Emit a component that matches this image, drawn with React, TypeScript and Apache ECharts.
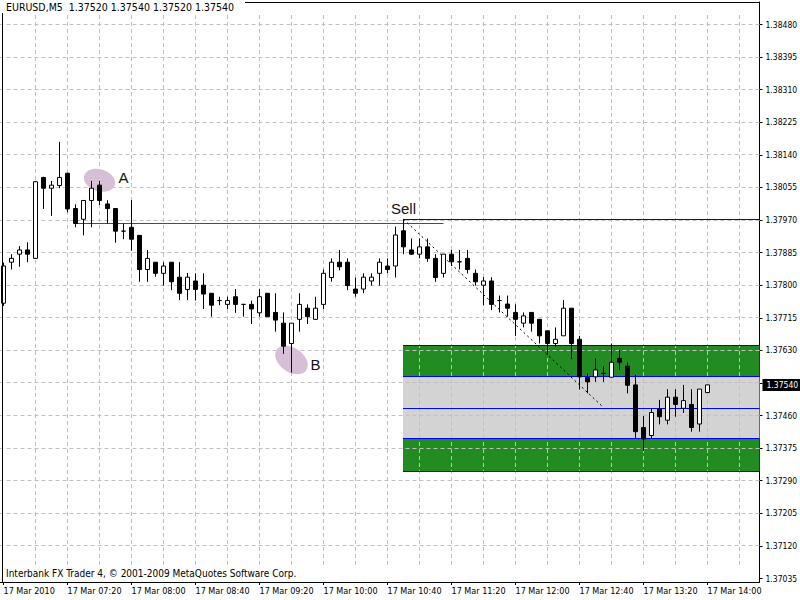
import React, { useEffect, useRef } from "react";
import * as echarts from "echarts";

const AXIS_FONT = "'DejaVu Sans Condensed', 'DejaVu Sans', sans-serif";
const NOTE_FONT = "'Liberation Sans', Arial, sans-serif";

const symbolName = "EURUSD,M5";
const copyrightText = "Interbank FX Trader 4, \u00a9 2001-2009 MetaQuotes Software Corp.";
const firstDateLabel = "17 Mar 2010";
const dayPrefix = "17 Mar";
const firstBarMinute = 6 * 60 + 40;
const barMinutes = 5;
const emptySlots = 6;

const opens = [
  1.37753, 1.3786, 1.37881, 1.37892, 1.3787, 1.38081, 1.38053, 1.3806, 1.38092, 1.38,
  1.37972, 1.38021, 1.38061, 1.38012, 1.38, 1.37941, 1.37951, 1.3793, 1.37841, 1.3786,
  1.37831, 1.3786, 1.37821, 1.37789, 1.37811, 1.378, 1.37779, 1.3776, 1.3775, 1.3777,
  1.3775, 1.3775, 1.37728, 1.37779, 1.37729, 1.37701, 1.37648, 1.37711, 1.3774, 1.37711,
  1.3775, 1.3782, 1.3786, 1.3786, 1.3779, 1.3779, 1.37811, 1.37831, 1.3785, 1.3785,
  1.37942, 1.37892, 1.37881, 1.379, 1.3787, 1.37831, 1.37881, 1.37861, 1.3787, 1.37831,
  1.378, 1.37811, 1.3776, 1.37751, 1.37729, 1.37701, 1.37729, 1.37711, 1.37681, 1.37648,
  1.37668, 1.3774, 1.37659, 1.37559, 1.37561, 1.3757, 1.3756, 1.37609, 1.37589, 1.3754,
  1.37429, 1.37408, 1.37477, 1.37448, 1.37508, 1.37479, 1.37489, 1.37438, 1.3752,
];
const closes = [
  1.3785, 1.3787, 1.37892, 1.37881, 1.3807, 1.38053, 1.38061, 1.38081, 1.37999, 1.37961,
  1.38021, 1.38053, 1.38021, 1.38, 1.37941, 1.37941, 1.3792, 1.37841, 1.3787, 1.37831,
  1.3785, 1.37809, 1.37779, 1.37821, 1.37789, 1.37777, 1.37748, 1.3776, 1.3776, 1.3775,
  1.3775, 1.37738, 1.3777, 1.37718, 1.37709, 1.37641, 1.37701, 1.3775, 1.37718, 1.3774,
  1.37831, 1.3786, 1.37848, 1.37799, 1.37779, 1.37821, 1.37821, 1.3786, 1.37841, 1.37931,
  1.379, 1.37881, 1.379, 1.3787, 1.3782, 1.37881, 1.37861, 1.37861, 1.37841, 1.37809,
  1.37811, 1.3775, 1.3776, 1.3774, 1.37711, 1.3772, 1.37701, 1.37668, 1.37648, 1.37659,
  1.3774, 1.37648, 1.37561, 1.37548, 1.37579, 1.3757, 1.37599, 1.37599, 1.37539, 1.37418,
  1.37399, 1.37468, 1.37457, 1.37508, 1.37489, 1.37499, 1.37429, 1.37529, 1.3754,
];
const lows = [
  1.37746, 1.37841, 1.37848, 1.3786, 1.3787, 1.37999, 1.37981, 1.38053, 1.3799, 1.37951,
  1.3793, 1.37951, 1.38009, 1.37961, 1.37911, 1.3792, 1.3789, 1.37809, 1.37809, 1.37822,
  1.37799, 1.37787, 1.37761, 1.37761, 1.3776, 1.37738, 1.37718, 1.37748, 1.37738, 1.37728,
  1.37718, 1.37699, 1.37718, 1.37718, 1.37679, 1.37621, 1.37572, 1.37679, 1.37699, 1.37711,
  1.37738, 1.37809, 1.37839, 1.37787, 1.3777, 1.37779, 1.37799, 1.37799, 1.37831, 1.3782,
  1.37881, 1.37879, 1.3787, 1.37861, 1.37809, 1.3782, 1.3785, 1.37841, 1.37831, 1.37799,
  1.37748, 1.37735, 1.37729, 1.37718, 1.37668, 1.3769, 1.37679, 1.37648, 1.37618, 1.3764,
  1.37668, 1.37607, 1.37528, 1.37518, 1.37548, 1.37548, 1.3756, 1.37579, 1.37518, 1.37399,
  1.37368, 1.37399, 1.37437, 1.37437, 1.37457, 1.37467, 1.37418, 1.37418, 1.3752,
];
const highs = [
  1.37859, 1.37881, 1.37902, 1.37912, 1.38072, 1.38083, 1.38072, 1.38174, 1.38093, 1.38011,
  1.38022, 1.38072, 1.38072, 1.38022, 1.38, 1.37961, 1.38022, 1.37931, 1.37892, 1.3786,
  1.3786, 1.3786, 1.3786, 1.37832, 1.37831, 1.37831, 1.37779, 1.3777, 1.3777, 1.3779,
  1.3775, 1.3776, 1.3779, 1.37779, 1.37779, 1.37729, 1.37701, 1.37779, 1.3775, 1.3777,
  1.37841, 1.3787, 1.37892, 1.3787, 1.3782, 1.37831, 1.37831, 1.3787, 1.3787, 1.37953,
  1.37972, 1.37922, 1.37922, 1.37922, 1.37881, 1.37881, 1.37892, 1.37892, 1.37892, 1.37841,
  1.37821, 1.37821, 1.37773, 1.37773, 1.3775, 1.37729, 1.37729, 1.37711, 1.37681, 1.3769,
  1.37761, 1.3774, 1.37668, 1.3757, 1.37609, 1.37589, 1.37648, 1.37631, 1.37599, 1.37566,
  1.37459, 1.37478, 1.37501, 1.37529, 1.37529, 1.3754, 1.37529, 1.37529, 1.3754,
];

const yTicks = [
  1.37035, 1.3712, 1.37205, 1.3729, 1.37375, 1.3746, 1.37545, 1.3763, 1.37715,
  1.378, 1.37885, 1.3797, 1.38055, 1.3814, 1.38225, 1.3831, 1.38395, 1.3848,
];
const yRange = [1.370259, 1.385387];
const gridBars = [4, 8, 12, 16, 20, 24, 28, 32, 36, 40, 44, 48, 52, 56, 60, 64, 68, 72, 76, 80, 84, 88, 92];

// horizontal levels (sell level + range channel), drawn from the sell bar to the right edge
const levelStartBar = 50;
const levelPrices = [1.37972, 1.37643, 1.37561, 1.37479, 1.37399, 1.37315];
const bandTops = [1.37643, 1.37561, 1.37399];
const bandBottoms = [1.37561, 1.37399, 1.37315];
const bandKinds = ["zone", "range", "zone"];

// red line and dotted trend line
const segmentStartBars = [9, 50];
const segmentStartPrices = [1.37961, 1.37972];
const segmentEndBars = [55, 75];
const segmentEndPrices = [1.37961, 1.37481];
const segmentKinds = ["red", "trend"];

const noteTexts = ["A", "B", "Sell"];
const noteBars = [15, 39, 50];
const notePrices = [1.3808, 1.37592, 1.37999];

const markerBars = [12, 36];
const markerPrices = [1.38074, 1.37605];
const markerSizes = [
  [16, 11, -0.3],
  [18, 12, -0.6],
];

const BAND_COLORS: Record<string, string> = { zone: "#228b22", range: "#d3d3d3" };
const GRID_COLOR = "#c0c0c0";
const GRID_PAD_TOP = 13;
const GRID_PAD_BOTTOM = 15;

const pad2 = (n: number) => (n < 10 ? "0" + n : "" + n);
const categories = Array.from({ length: opens.length + emptySlots }, (_, i) => {
  const m = firstBarMinute + i * barMinutes;
  return `${dayPrefix} ${pad2(Math.floor(m / 60))}:${pad2(m % 60)}`;
});

const crisp = (v: number) => Math.floor(v) + 0.5;

export default function App() {
  const ref = useRef<HTMLDivElement>(null);
  useEffect(() => {
    const chart = echarts.init(ref.current!, null, { renderer: "svg" });
    const last = opens.length - 1;
    const lastClose = closes[last];
    const title = `${symbolName}  ${opens[last].toFixed(5)} ${highs[last].toFixed(5)} ${lows[last].toFixed(5)} ${closes[last].toFixed(5)}`;
    // the current-price tag hides the scale label it sits on
    const yLabelValues = yTicks.filter((v) => Math.abs(v - lastClose) > 0.0002);

    const option: any = {
      animation: false,
      backgroundColor: "#ffffff",
      grid: { left: -0.5, width: 760, top: 2, bottom: 18, containLabel: false, outerBoundsMode: "none" },
      xAxis: {
        type: "category",
        data: categories,
        boundaryGap: true,
        axisLine: { show: true, lineStyle: { color: "#000", width: 1 } },
        axisTick: { show: true, alignWithLabel: true, interval: 7, length: 3, lineStyle: { color: "#000" } },
        axisLabel: {
          interval: 7,
          align: "left",
          margin: 4,
          color: "#000",
          fontFamily: AXIS_FONT,
          fontSize: 9,
          hideOverlap: false,
          formatter: (v: string, i: number) => (i === 0 ? firstDateLabel : v),
        },
        splitLine: { show: false },
      },
      yAxis: {
        type: "value",
        position: "right",
        min: yRange[0],
        max: yRange[1],
        scale: true,
        axisLine: { show: true, lineStyle: { color: "#000", width: 1 } },
        axisTick: { show: true, length: 3, customValues: yTicks, lineStyle: { color: "#000" } },
        axisLabel: {
          customValues: yLabelValues,
          formatter: (v: number) => v.toFixed(5),
          margin: 6,
          color: "#000",
          fontFamily: AXIS_FONT,
          fontSize: 8.5,
        },
        splitLine: { show: false },
      },
      graphic: [
        { type: "line", z: 50, shape: { x1: 2.5, y1: 2.5, x2: 2.5, y2: 582 }, style: { stroke: "#000", lineWidth: 1 } },
        { type: "line", z: 50, shape: { x1: 2.5, y1: 2.5, x2: 760, y2: 2.5 }, style: { stroke: "#000", lineWidth: 1 } },
        { type: "rect", z: 60, shape: { x: 0, y: 0, width: 245, height: 13 }, style: { fill: "#fff" } },
        {
          type: "text",
          z: 61,
          left: 6,
          top: 1,
          style: { text: title, fill: "#000", fontFamily: AXIS_FONT, fontSize: 10.5 },
        },
        {
          type: "text",
          z: 61,
          left: 6,
          top: 568,
          style: { text: copyrightText, fill: "#000", fontFamily: AXIS_FONT, fontSize: 10 },
        },
      ],
      series: [
        {
          type: "custom",
          name: "bands",
          z: 1,
          silent: true,
          data: bandTops.map((t, i) => [levelStartBar, t, bandBottoms[i]]),
          renderItem: (params: any, api: any) => {
            const cs = params.coordSys;
            const a = api.coord([api.value(0), api.value(1)]);
            const b = api.coord([api.value(0), api.value(2)]);
            const x = Math.floor(a[0]);
            const y1 = Math.round(a[1]);
            const y2 = Math.round(b[1]);
            return {
              type: "rect",
              shape: { x, y: y1, width: cs.x + cs.width - x, height: y2 - y1 },
              style: { fill: BAND_COLORS[bandKinds[params.dataIndex]] },
            };
          },
        },
        {
          type: "custom",
          name: "gridH",
          z: 2,
          silent: true,
          data: yTicks.map((v) => [0, v]),
          renderItem: (params: any, api: any) => {
            const cs = params.coordSys;
            const y = api.coord([0, api.value(1)])[1];
            if (y < cs.y + GRID_PAD_TOP || y > cs.y + cs.height - GRID_PAD_BOTTOM) return null;
            const yy = crisp(y);
            return {
              type: "line",
              shape: { x1: cs.x, y1: yy, x2: cs.x + cs.width, y2: yy },
              style: { stroke: GRID_COLOR, lineWidth: 1, lineDash: [4, 3] },
            };
          },
        },
        {
          type: "custom",
          name: "gridV",
          z: 2,
          silent: true,
          data: gridBars.map((b) => [b, yRange[0]]),
          renderItem: (params: any, api: any) => {
            const cs = params.coordSys;
            const x = crisp(api.coord([api.value(0), api.value(1)])[0]);
            return {
              type: "line",
              shape: { x1: x, y1: cs.y + GRID_PAD_TOP, x2: x, y2: cs.y + cs.height - GRID_PAD_BOTTOM },
              style: { stroke: GRID_COLOR, lineWidth: 1, lineDash: [4, 3] },
            };
          },
        },
        {
          type: "custom",
          name: "markers",
          z: 3,
          silent: true,
          data: markerBars.map((b, i) => [b, markerPrices[i]]),
          renderItem: (params: any, api: any) => {
            const p = api.coord([api.value(0), api.value(1)]);
            const s = markerSizes[params.dataIndex];
            return {
              type: "ellipse",
              x: p[0],
              y: p[1],
              rotation: s[2],
              shape: { cx: 0, cy: 0, rx: s[0], ry: s[1] },
              style: { fill: "#d8bfd8" },
            };
          },
        },
        {
          type: "custom",
          name: "levels",
          z: 4,
          silent: true,
          data: levelPrices.map((p) => [levelStartBar, p]),
          renderItem: (params: any, api: any) => {
            const cs = params.coordSys;
            const a = api.coord([api.value(0), api.value(1)]);
            const y = crisp(a[1]);
            return {
              type: "line",
              shape: { x1: Math.floor(a[0]), y1: y, x2: cs.x + cs.width, y2: y },
              style: { stroke: "#0000ff", lineWidth: 1 },
            };
          },
        },
        {
          type: "custom",
          name: "segments",
          z: 4,
          silent: true,
          data: segmentStartBars.map((b, i) => [b, segmentStartPrices[i], segmentEndBars[i], segmentEndPrices[i]]),
          renderItem: (params: any, api: any) => {
            const a = api.coord([api.value(0), api.value(1)]);
            const b = api.coord([api.value(2), api.value(3)]);
            const kind = segmentKinds[params.dataIndex];
            const red = kind === "red";
            return {
              type: "line",
              shape: { x1: a[0], y1: red ? crisp(a[1]) : a[1], x2: b[0], y2: red ? crisp(b[1]) : b[1] },
              style: red
                ? { stroke: "#ff0000", lineWidth: 1 }
                : { stroke: "#000", lineWidth: 1, lineDash: [2, 3] },
            };
          },
        },
        {
          type: "candlestick",
          name: symbolName,
          z: 5,
          silent: true,
          barWidth: 4,
          data: opens.map((o, i) => [o, closes[i], lows[i], highs[i]]),
          itemStyle: {
            color: "#ffffff",
            color0: "#000000",
            borderColor: "#000000",
            borderColor0: "#000000",
            borderWidth: 1,
          },
          markLine: {
            silent: true,
            z: 20,
            precision: 5,
            symbol: ["none", "none"],
            lineStyle: { color: "rgba(0,0,0,0)", width: 0 },
            label: {
              show: true,
              position: "end",
              distance: 3,
              formatter: (p: any) => Number(p.value).toFixed(5),
              backgroundColor: "#000",
              color: "#fff",
              padding: [2, 4, 1, 4],
              fontFamily: AXIS_FONT,
              fontSize: 8.5,
            },
            data: [{ yAxis: lastClose }],
          },
        },
        {
          type: "custom",
          name: "notes",
          z: 6,
          silent: true,
          data: noteBars.map((b, i) => [b, notePrices[i]]),
          renderItem: (params: any, api: any) => {
            const p = api.coord([api.value(0), api.value(1)]);
            return {
              type: "text",
              x: p[0],
              y: p[1],
              style: {
                text: noteTexts[params.dataIndex],
                fill: "#111",
                fontFamily: NOTE_FONT,
                fontSize: 15,
                align: "center",
                verticalAlign: "middle",
              },
            };
          },
        },
      ],
    };
    chart.setOption(option);
    return () => chart.dispose();
  }, []);
  return <div ref={ref} style={{ position: "fixed", left: 0, top: 0, width: 800, height: 600 }} />;
}
